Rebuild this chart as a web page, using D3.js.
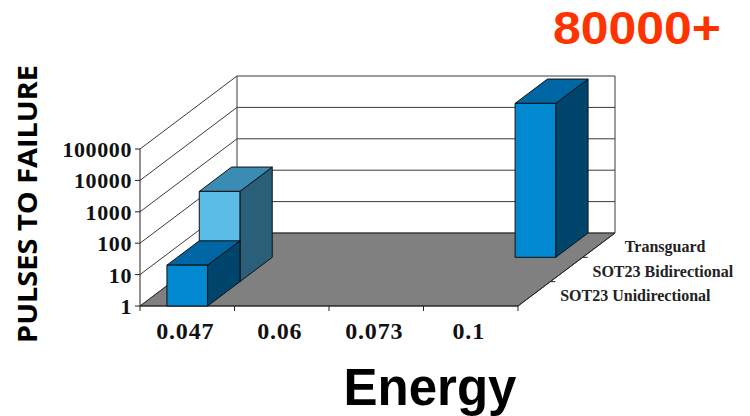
<!DOCTYPE html>
<html>
<head>
<meta charset="utf-8">
<script src="https://cdn.jsdelivr.net/npm/d3@7"></script>
<style>
  html, body { margin: 0; padding: 0; background: #ffffff; }
  svg { display: block; }
</style>
</head>
<body>
<svg id="chart" width="750" height="416"></svg>
<script>
// Energy levels on the front axis
const categories = ["0.047", "0.06", "0.073", "0.1"];
// Device families, front row to back row
const seriesNames = ["SOT23 Unidirectional", "SOT23 Bidirectional", "Transguard"];
// Pulses to failure per energy level (null = no bar)
const unidirectional = [20, null, null, null];
const bidirectional = [750, null, null, null];
const transguard = [null, null, null, 80000];
const yTicks = [1, 10, 100, 1000, 10000, 100000];
const callout = "80000+";

const seriesValues = [unidirectional, bidirectional, transguard];

// Face colours per series: front, top, side
const palette = [
  { front: "#0088d1", top: "#0066a3", side: "#00456b" },
  { front: "#5bbde6", top: "#3b8cb5", side: "#2a5f79" },
  { front: "#0088d1", top: "#0066a3", side: "#00456b" }
];

const svg = d3.select("#chart");

// Front plane geometry and depth offset of the 3D box
const plotLeft = 140, plotRight = 518, plotBottom = 306, plotTop = 149;
const depthDx = 97, depthDy = -73;

const x = d3.scaleBand(categories, [plotLeft, plotRight]).paddingInner(0.57).paddingOuter(0.285);
const xStep = d3.scaleBand(categories, [plotLeft, plotRight]);
const y = d3.scaleLog([1, 100000], [plotBottom, plotTop]);
const z = d3.scaleBand(seriesNames, [0, 1]);

// project a front-plane point back into the scene by depth fraction d
const P = (px, py, d) => [px + depthDx * d, py + depthDy * d];
const pts = arr => arr.map(p => p.join(",")).join(" ");

const g = svg.append("g");

// Left wall and back wall (white)
g.append("polygon")
  .attr("points", pts([P(plotLeft, plotBottom, 0), P(plotLeft, plotTop, 0), P(plotLeft, plotTop, 1), P(plotLeft, plotBottom, 1)]))
  .attr("fill", "#ffffff");

// Floor
g.append("polygon")
  .attr("points", pts([P(plotLeft, plotBottom, 0), P(plotRight, plotBottom, 0), P(plotRight, plotBottom, 1), P(plotLeft, plotBottom, 1)]))
  .attr("fill", "#808080")
  .attr("stroke", "#222")
  .attr("stroke-width", 0.8);

// Gridlines: along the left wall and across the back wall
yTicks.forEach(t => {
  const a = P(plotLeft, y(t), 0), b = P(plotLeft, y(t), 1), c = P(plotRight, y(t), 1);
  g.append("polyline")
    .attr("points", pts([a, b, c]))
    .attr("fill", "none")
    .attr("stroke", "#3a3a3a")
    .attr("stroke-width", 1);
});

// Wall edges
[[P(plotLeft, plotBottom, 1), P(plotLeft, plotTop, 1)], [P(plotRight, plotBottom, 1), P(plotRight, plotTop, 1)]].forEach(([a, b]) => {
  g.append("line").attr("x1", a[0]).attr("y1", a[1]).attr("x2", b[0]).attr("y2", b[1])
    .attr("stroke", "#3a3a3a").attr("stroke-width", 1);
});

// Value axis on the front-left edge
const yAxis = g.append("g");
yAxis.append("line").attr("x1", plotLeft).attr("x2", plotLeft).attr("y1", plotBottom).attr("y2", plotTop)
  .attr("stroke", "#222").attr("stroke-width", 1);
yTicks.forEach(t => {
  yAxis.append("line").attr("x1", plotLeft - 5).attr("x2", plotLeft).attr("y1", y(t)).attr("y2", y(t))
    .attr("stroke", "#222");
  yAxis.append("text")
    .attr("x", plotLeft - 8).attr("y", y(t))
    .attr("dy", "0.36em")
    .attr("text-anchor", "end")
    .attr("font-family", "'Liberation Serif', 'DejaVu Serif', serif")
    .attr("font-weight", "bold")
    .attr("font-size", 22)
    .attr("letter-spacing", 0.6)
    .attr("fill", "#111")
    .text(String(t));
});

// Category axis on the front edge
const xAxis = g.append("g");
xAxis.append("line").attr("x1", plotLeft).attr("x2", plotRight).attr("y1", plotBottom).attr("y2", plotBottom)
  .attr("stroke", "#222");
categories.forEach((c, i) => {
  const x0 = xStep(c);
  xAxis.append("line").attr("x1", x0).attr("x2", x0).attr("y1", plotBottom).attr("y2", plotBottom + 5).attr("stroke", "#222");
  if (i === categories.length - 1) {
    xAxis.append("line").attr("x1", x0 + xStep.bandwidth()).attr("x2", x0 + xStep.bandwidth())
      .attr("y1", plotBottom).attr("y2", plotBottom + 5).attr("stroke", "#222");
  }
  xAxis.append("text")
    .attr("x", x0 + xStep.bandwidth() / 2 - 2)
    .attr("y", plotBottom + 33)
    .attr("text-anchor", "middle")
    .attr("font-family", "'Liberation Serif', 'DejaVu Serif', serif")
    .attr("font-weight", "bold")
    .attr("font-size", 24)
    .attr("letter-spacing", 0.8)
    .attr("fill", "#111")
    .text(c);
});

// Depth (series) axis on the front-right edge
const zAxis = g.append("g");
{
  const a = P(plotRight, plotBottom, 0), b = P(plotRight, plotBottom, 1);
  zAxis.append("line").attr("x1", a[0]).attr("y1", a[1]).attr("x2", b[0]).attr("y2", b[1]).attr("stroke", "#222");
}
seriesNames.forEach((s, i) => {
  const d0 = z(s);
  if (i > 0) {
    const t = P(plotRight, plotBottom, d0);
    zAxis.append("line").attr("x1", t[0]).attr("x2", t[0] + 5).attr("y1", t[1]).attr("y2", t[1]).attr("stroke", "#222");
  }
  const c = P(plotRight, plotBottom, d0 + z.bandwidth() / 2);
  zAxis.append("text")
    .attr("x", c[0] + 26)
    .attr("y", c[1] + 7)
    .attr("font-family", "'Liberation Serif', 'DejaVu Serif', serif")
    .attr("font-weight", "bold")
    .attr("font-size", 16)
    .attr("fill", "#222")
    .text(s);
});

// Bars: draw back row first so nearer boxes cover farther ones
const bars = g.append("g");
for (let si = seriesNames.length - 1; si >= 0; si--) {
  const s = seriesNames[si];
  const d0 = z(s), d1 = z(s) + z.bandwidth();
  const col = palette[si];
  categories.forEach((c, ci) => {
    const v = seriesValues[si][ci];
    if (v == null) return;
    const x0 = x(c), x1 = x(c) + x.bandwidth();
    const yb = y(1), yt = y(v);
    const box = bars.append("g").attr("stroke", "#111").attr("stroke-width", 1).attr("stroke-linejoin", "round");
    // right side face
    box.append("polygon")
      .attr("points", pts([P(x1, yb, d0), P(x1, yt, d0), P(x1, yt, d1), P(x1, yb, d1)]))
      .attr("fill", col.side);
    // top face
    box.append("polygon")
      .attr("points", pts([P(x0, yt, d0), P(x1, yt, d0), P(x1, yt, d1), P(x0, yt, d1)]))
      .attr("fill", col.top);
    // front face
    box.append("polygon")
      .attr("points", pts([P(x0, yb, d0), P(x1, yb, d0), P(x1, yt, d0), P(x0, yt, d0)]))
      .attr("fill", col.front);
  });
}

// Axis titles
svg.append("text")
  .attr("transform", "translate(37,204) rotate(-90)")
  .attr("text-anchor", "middle")
  .attr("font-family", "'Open Sans', 'Noto Sans', sans-serif")
  .attr("font-weight", "bold")
  .attr("font-size", 27)
  .attr("textLength", 278)
  .attr("lengthAdjust", "spacingAndGlyphs")
  .attr("fill", "#000")
  .text("PULSES TO FAILURE");

svg.append("text")
  .attr("x", 430)
  .attr("y", 405)
  .attr("text-anchor", "middle")
  .attr("font-family", "'Liberation Sans', Arial, sans-serif")
  .attr("font-weight", "bold")
  .attr("font-size", 51)
  .attr("fill", "#000")
  .text("Energy");

// Callout for the tallest bar
svg.append("text")
  .attr("x", 553)
  .attr("y", 44)
  .attr("font-family", "'Liberation Sans', Arial, sans-serif")
  .attr("font-weight", "bold")
  .attr("font-size", 46)
  .attr("textLength", 168)
  .attr("lengthAdjust", "spacingAndGlyphs")
  .attr("fill", "#ff3300")
  .text(callout);
</script>
</body>
</html>
